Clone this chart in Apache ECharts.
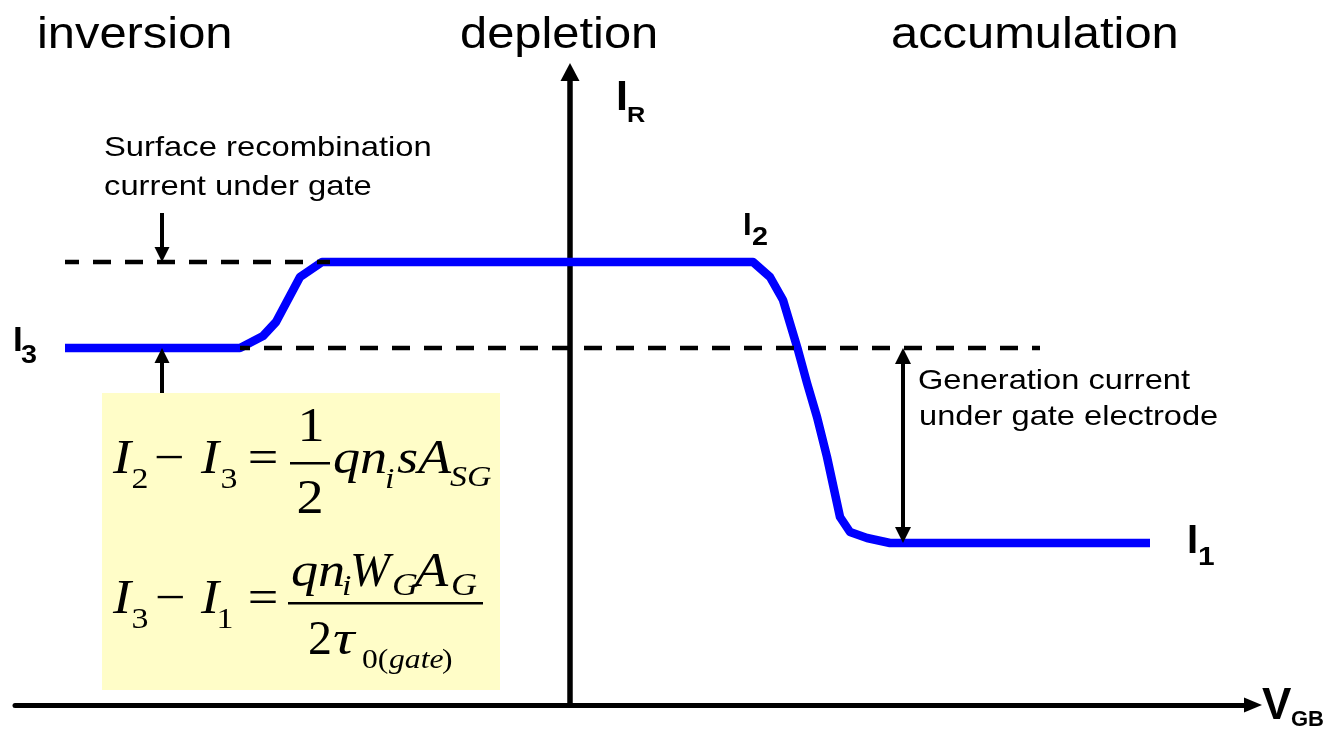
<!DOCTYPE html>
<html>
<head>
<meta charset="utf-8">
<script src="https://cdn.jsdelivr.net/npm/echarts@6/dist/echarts.min.js"></script>
<style>
  html, body { margin: 0; padding: 0; background: #fff; }
  #chart { width: 1333px; height: 730px; }
</style>
</head>
<body>
<div id="chart"></div>
<script>
// Gate-controlled diode: reverse current I_R versus gate bias V_GB

// Current levels (arbitrary units on the I_R axis)
const levelI1 = 1.62;
const levelI2 = 4.43;
const levelI3 = 3.57;

// I_R(V_GB) curve
const curveV = [-5.05, -3.30, -3.07, -2.94, -2.70, -2.48, 1.83, 2.00, 2.13, 2.28, 2.37, 2.47, 2.57, 2.70, 2.80, 2.97, 3.20, 5.80];
const curveI = [3.57, 3.57, 3.69, 3.83, 4.28, 4.43, 4.43, 4.28, 4.05, 3.55, 3.22, 2.88, 2.48, 1.88, 1.73, 1.67, 1.62, 1.62];

// Dashed reference levels: [start V, end V]
const upperDashV = [-5.05, -2.40];
const lowerDashV = [-3.30, 4.70];

// Dimension arrows
const surfaceArrowV = -4.08;
const surfaceArrowTop = 4.92;    // tail of the downward arrow
const surfaceArrowBottom = 3.12; // tail of the upward arrow
const generationArrowV = 3.33;

// Region names across the top
const regionLabels = ['inversion', 'depletion', 'accumulation'];

// Axis ranges
const vMin = -5.55, vMax = 6.83;
const iMin = 0, iMax = 6.33;

const SANS = '"Liberation Sans", Arial, Helvetica, sans-serif';
const SERIF = '"Liberation Serif", "Times New Roman", serif';

// Arrow-head geometry (pixels) and the axis scale used to pull the head back so its tip lands on the level
const PX_PER_UNIT = 100;
const headSmall = [15, 15];
const headGen = [16, 16];

function txt(text, x, baseline, size, opt) {
  opt = opt || {};
  const family = opt.family || SANS;
  const k = family === SERIF ? 0.3375 : 0.3465;
  return {
    type: 'text', x: x, y: baseline - k * size, scaleX: opt.sx || 1, z: 10, silent: true,
    style: {
      text: text, fill: '#000',
      fontFamily: family, fontSize: size,
      fontStyle: opt.style || 'normal', fontWeight: opt.weight || 'normal',
      align: opt.align || 'left', verticalAlign: 'middle'
    }
  };
}

// formula glyph: serif, slightly widened unless a width factor is given
function fm(text, x, baseline, size, italic, align, sx) {
  return txt(text, x, baseline, size, {
    family: SERIF, style: italic ? 'italic' : 'normal', align: align || 'left', sx: sx || 1.13
  });
}

function arrow(x, from, to, head, bothEnds) {
  const dir = to > from ? 1 : -1;
  const back = head[1] / 2 / PX_PER_UNIT;
  return [
    { coord: [x, bothEnds ? from + dir * back : from], symbol: bothEnds ? 'triangle' : 'none', symbolSize: head },
    { coord: [x, to - dir * back], symbol: 'triangle', symbolSize: head }
  ];
}

const chart = echarts.init(document.getElementById('chart'), null, { renderer: 'canvas' });

const graphics = [
  // formula panel
  { type: 'rect', z: 0, silent: true, shape: { x: 102, y: 393, width: 398, height: 297 }, style: { fill: '#fffdc8' } },

  // region names
  txt(regionLabels[0], 37, 51, 44, { sx: 1.11 }),
  txt(regionLabels[1], 460, 51, 44, { sx: 1.11 }),
  txt(regionLabels[2], 891, 51, 44, { sx: 1.11 }),

  // annotations
  txt('Surface recombination', 104, 158, 28, { sx: 1.17 }),
  txt('current under gate', 104, 197, 28, { sx: 1.17 }),
  txt('Generation current', 918, 391, 28, { sx: 1.165 }),
  txt('under gate electrode', 919, 427, 28, { sx: 1.165 }),

  // axis names
  txt('I', 616, 113, 43, { weight: 'bold' }),
  txt('R', 627, 124, 22, { weight: 'bold', sx: 1.15 }),
  txt('V', 1262, 722, 44, { weight: 'bold' }),
  txt('GB', 1291, 728, 22, { weight: 'bold' }),

  // level labels
  txt('I', 13, 353, 35, { weight: 'bold' }),
  txt('3', 21, 365, 25, { weight: 'bold', sx: 1.15 }),
  txt('I', 743, 237, 31, { weight: 'bold' }),
  txt('2', 752, 247, 25, { weight: 'bold', sx: 1.15 }),
  txt('I', 1187, 556, 40, { weight: 'bold' }),
  txt('1', 1198, 567, 26, { weight: 'bold', sx: 1.15 }),

  // I2 - I3 = (1/2) q ni s A_SG
  fm('I', 122, 477, 48, true, 'center'),
  fm('2', 140, 490, 30, false, 'center'),
  fm('\u2212', 169, 477, 48, false, 'center'),
  fm('I', 210, 477, 48, true, 'center'),
  fm('3', 229, 490, 30, false, 'center'),
  fm('=', 263, 477, 48, false, 'center'),
  fm('1', 311, 445, 48, false, 'center'),
  { type: 'rect', z: 10, silent: true, shape: { x: 290, y: 462, width: 40, height: 2.5 }, style: { fill: '#000' } },
  fm('2', 310, 517, 48, false, 'center'),
  fm('qn', 333, 477, 48, true),
  fm('i', 385, 490, 30, true),
  fm('sA', 397, 477, 48, true),
  fm('SG', 450, 488, 30, true),

  // I3 - I1 = q ni W_G A_G / (2 tau_0(gate))
  fm('I', 122, 617, 48, true, 'center'),
  fm('3', 140, 630, 30, false, 'center'),
  fm('\u2212', 170, 617, 48, false, 'center'),
  fm('I', 210, 617, 48, true, 'center'),
  fm('1', 225, 630, 30, false, 'center'),
  fm('=', 263, 617, 48, false, 'center'),
  { type: 'rect', z: 10, silent: true, shape: { x: 288, y: 602, width: 195, height: 2.5 }, style: { fill: '#000' } },
  fm('qn', 291, 590, 48, true),
  fm('i', 342, 597, 30, true),
  fm('W', 350, 590, 48, true, 'left', 1),
  fm('G', 392, 597, 32, true),
  fm('A', 415, 590, 48, true),
  fm('G', 451, 597, 32, true),
  fm('2', 308, 658, 48, false, 'left', 1),
  fm('\u03C4', 333, 658, 48, true, 'left', 1.25),
  fm('0(', 362, 670, 28, false),
  fm('gate', 389, 670, 28, true),
  fm(')', 442, 670, 28, false)
];

const hiddenAxisParts = {
  axisTick: { show: false },
  axisLabel: { show: false },
  splitLine: { show: false }
};

const option = {
  animation: false,
  backgroundColor: '#ffffff',
  grid: { left: 15, right: 80, top: 72, bottom: 25 },
  xAxis: Object.assign({
    type: 'value', min: vMin, max: vMax,
    axisLine: {
      show: true, onZero: true,
      symbol: ['none', 'triangle'], symbolSize: [15, 18],
      lineStyle: { color: '#000', width: 5 }
    }
  }, hiddenAxisParts),
  yAxis: Object.assign({
    type: 'value', min: iMin, max: iMax,
    axisLine: {
      show: true, onZero: true,
      symbol: ['none', 'triangle'], symbolSize: [19, 18],
      lineStyle: { color: '#000', width: 5.5 }
    }
  }, hiddenAxisParts),
  series: [
    {
      name: 'I_R',
      type: 'line',
      data: curveV.map((v, i) => [v, curveI[i]]),
      symbol: 'none',
      silent: true,
      z: 3,
      lineStyle: { color: '#0000ff', width: 8.5, join: 'round', cap: 'butt' }
    },
    {
      name: 'I2 level',
      type: 'line',
      data: upperDashV.map(v => [v, levelI2]),
      symbol: 'none',
      silent: true,
      z: 4,
      lineStyle: { color: '#000', width: 4.5, type: [18, 14], dashOffset: 4 }
    },
    {
      name: 'I3 level',
      type: 'line',
      data: lowerDashV.map(v => [v, levelI3]),
      symbol: 'none',
      silent: true,
      z: 4,
      lineStyle: { color: '#000', width: 4.5, type: [18, 14], dashOffset: 8 },
      markLine: {
        silent: true,
        animation: false,
        label: { show: false },
        emphasis: { disabled: true },
        lineStyle: { color: '#000', width: 4, type: 'solid' },
        data: [
          arrow(surfaceArrowV, surfaceArrowTop, levelI2, headSmall, false),
          arrow(surfaceArrowV, surfaceArrowBottom, levelI3, headSmall, false),
          arrow(generationArrowV, levelI3, levelI1, headGen, true)
        ]
      }
    }
  ],
  graphic: graphics
};

chart.setOption(option);
</script>
</body>
</html>
